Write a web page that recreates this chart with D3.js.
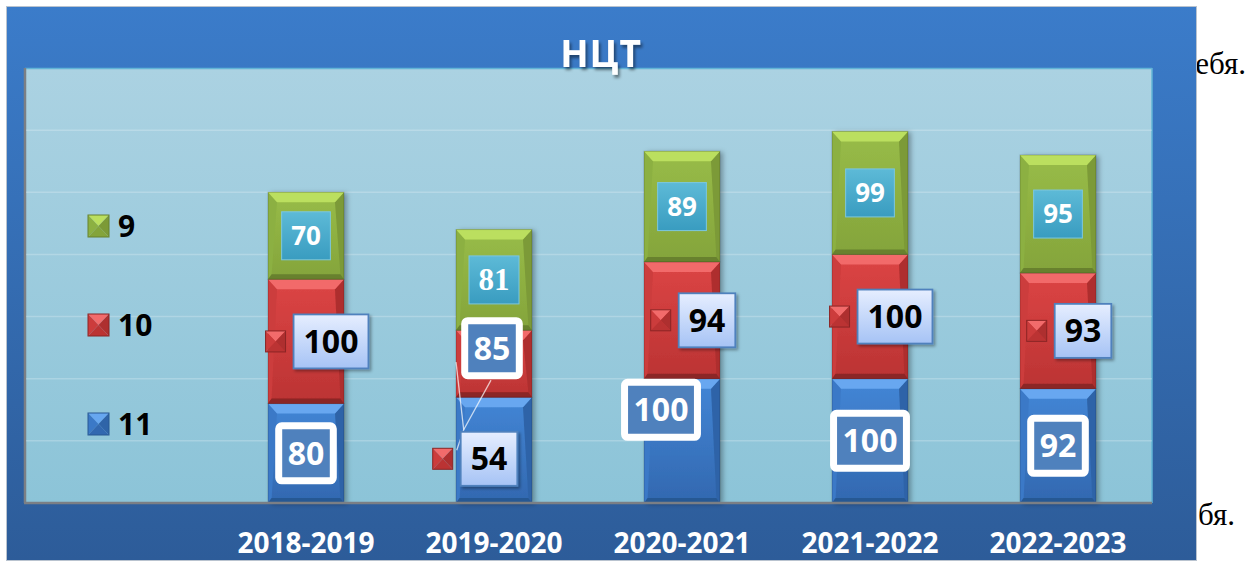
<!DOCTYPE html>
<html>
<head>
<meta charset="utf-8">
<script src="https://cdn.jsdelivr.net/npm/d3@7"></script>
<style>
  html, body { margin: 0; padding: 0; background: #fff; overflow: hidden; }
  svg { display: block; }
</style>
</head>
<body>
<svg id="chart" width="1253" height="563"></svg>
<script>
// НЦТ results by school year, stacked per grade
const years = ["2018-2019", "2019-2020", "2020-2021", "2021-2022", "2022-2023"];
const grade11 = [80, 85, 100, 100, 92];
const grade10 = [100, 54, 94, 100, 93];
const grade9 = [70, 81, 89, 99, 95];
const seriesKeys = ["11", "10", "9"];
const title = "НЦТ";

(function () {
  const svg = d3.select("#chart");
  const defs = svg.append("defs");
  const sans = "'Open Sans', 'DejaVu Sans', sans-serif";
  const serif = "'Liberation Serif', 'DejaVu Serif', serif";

  function grad(id, c1, c2, horizontal) {
    const g = defs.append("linearGradient").attr("id", id)
      .attr("x1", 0).attr("y1", 0)
      .attr("x2", horizontal ? 1 : 0).attr("y2", horizontal ? 0 : 1);
    g.append("stop").attr("offset", "0%").attr("stop-color", c1);
    g.append("stop").attr("offset", "100%").attr("stop-color", c2);
  }
  function shadow(id, dx, dy, sd, op) {
    defs.append("filter").attr("id", id)
      .attr("x", "-20%").attr("y", "-20%").attr("width", "140%").attr("height", "140%")
      .append("feDropShadow")
      .attr("dx", dx).attr("dy", dy).attr("stdDeviation", sd)
      .attr("flood-color", "#000").attr("flood-opacity", op);
  }

  grad("frameFill", "#3b7cca", "#2d5c99");
  grad("plotFill", "#abd2e2", "#8cc4d8");
  grad("greenLbl", "#5dbad7", "#399cc0");
  grad("redLbl", "#e6eeff", "#a6c3f5");
  shadow("titleSh", 2, 3, 1.5, 0.45);
  shadow("barSh", 3, 1, 2.5, 0.3);
  shadow("lblSh", 2, 2, 1.5, 0.35);

  const pal = {
    "11": { top: "#67a7f0", b1: "#4386d6", b2: "#3268b0", left: "#3b79c7", right: "#2f64a8", bottom: "#285893", label: "blue" },
    "10": { top: "#f26b6b", b1: "#dc4545", b2: "#bb3333", left: "#cc3c3c", right: "#ae2f2f", bottom: "#8b2525", label: "red" },
    "9":  { top: "#bbdf5e", b1: "#98bc48", b2: "#84a43b", left: "#8cb042", right: "#7c9a37", bottom: "#67812e", label: "green" }
  };
  seriesKeys.forEach((k) => grad("body" + k, pal[k].b1, pal[k].b2));

  // document text behind the chart
  svg.append("text").attr("x", 1246).attr("y", 74).attr("text-anchor", "end")
    .style("font-family", serif).style("font-size", "31px").text("себя.");
  svg.append("text").attr("x", 1198).attr("y", 525).attr("text-anchor", "start")
    .style("font-family", serif).style("font-size", "31px").text("бя.");

  // chart frame + plot area
  svg.append("rect").attr("x", 6.5).attr("y", 6.5).attr("width", 1190).attr("height", 554)
    .attr("fill", "url(#frameFill)").attr("stroke", "#b9c3cf").attr("stroke-width", 1);

  const plot = { x0: 25, x1: 1152, y0: 68, y1: 503 };
  svg.append("rect").attr("x", plot.x0).attr("y", plot.y0)
    .attr("width", plot.x1 - plot.x0).attr("height", plot.y1 - plot.y0)
    .attr("fill", "url(#plotFill)");
  svg.append("line").attr("x1", plot.x0).attr("x2", plot.x1).attr("y1", plot.y0 + 0.5).attr("y2", plot.y0 + 0.5)
    .attr("stroke", "#62b4d6").attr("stroke-width", 1.5);
  svg.append("line").attr("x1", plot.x1).attr("x2", plot.x1).attr("y1", plot.y0).attr("y2", plot.y1)
    .attr("stroke", "#62b4d6").attr("stroke-width", 1.5);
  svg.append("line").attr("x1", plot.x0).attr("x2", plot.x0).attr("y1", plot.y0).attr("y2", plot.y1)
    .attr("stroke", "#7b7f85").attr("stroke-width", 2.5);

  const x = d3.scaleBand().domain(years).range([212, 1152])
    .paddingInner(0.596).paddingOuter(0.298);
  const y = d3.scaleLinear().domain([0, 350]).range([plot.y1, plot.y0]);

  // gridlines
  svg.append("g").selectAll("line")
    .data(y.ticks(7).filter((t) => t > 0 && t < 350))
    .join("line")
    .attr("x1", plot.x0 + 1).attr("x2", plot.x1)
    .attr("y1", (d) => y(d)).attr("y2", (d) => y(d))
    .attr("stroke", "#ffffff").attr("stroke-opacity", 0.22).attr("stroke-width", 1.5);

  const table = years.map((yr, i) => ({ year: yr, "11": grade11[i], "10": grade10[i], "9": grade9[i] }));
  const layers = d3.stack().keys(seriesKeys)(table);
  const bw = x.bandwidth();

  // bars with bevel
  const bars = svg.append("g").attr("filter", "url(#barSh)");
  layers.forEach((layer) => {
    const p = pal[layer.key];
    layer.forEach((d) => {
      const x0 = x(d.data.year), x1 = x0 + bw;
      const yt = y(d[1]), yb = y(d[0]);
      const bt = Math.min(10, (yb - yt) / 3), bs = 9, bb = Math.min(5, (yb - yt) / 4);
      const g = bars.append("g");
      g.append("rect").attr("x", x0).attr("y", yt).attr("width", bw).attr("height", yb - yt)
        .attr("fill", "url(#body" + layer.key + ")");
      const poly = (pts, fill) => g.append("polygon").attr("points", pts.map((q) => q.join(",")).join(" ")).attr("fill", fill);
      poly([[x0, yt], [x0 + bs, yt + bt], [x0 + bs * 0.4, yb - bb], [x0, yb]], p.left);
      poly([[x1, yt], [x1, yb], [x1 - bs * 0.4, yb - bb], [x1 - bs, yt + bt]], p.right);
      poly([[x0, yb], [x0 + bs * 0.4, yb - bb], [x1 - bs * 0.4, yb - bb], [x1, yb]], p.bottom);
      poly([[x0, yt], [x1, yt], [x1 - bs, yt + bt], [x0 + bs, yt + bt]], p.top);
      g.append("rect").attr("x", x0).attr("y", yt).attr("width", bw).attr("height", yb - yt)
        .attr("fill", "none").attr("stroke", "#000").attr("stroke-opacity", 0.18).attr("stroke-width", 1);
    });
  });

  // axis line
  svg.append("line").attr("x1", plot.x0 - 1).attr("x2", plot.x1).attr("y1", plot.y1).attr("y2", plot.y1)
    .attr("stroke", "#7b7f85").attr("stroke-width", 2.5);

  function drawKey(g, kx, ky, w, h, p) {
    const cx = kx + w / 2, cy = ky + h / 2;
    const tri = (pts, fill) => g.append("polygon").attr("points", pts.map((q) => q.join(",")).join(" ")).attr("fill", fill);
    tri([[kx, ky], [kx + w, ky], [cx, cy]], p.top);
    tri([[kx, ky], [cx, cy], [kx, ky + h]], p.left);
    tri([[kx + w, ky], [kx + w, ky + h], [cx, cy]], p.right);
    tri([[kx, ky + h], [cx, cy], [kx + w, ky + h]], p.b2);
    g.append("rect").attr("x", kx).attr("y", ky).attr("width", w).attr("height", h)
      .attr("fill", "none").attr("stroke", p.bottom).attr("stroke-width", 1);
  }

  // manually dragged labels in the original
  const labelNudge = {
    "11|2019-2020": [-2, -102],
    "10|2019-2020": [-30, 95],
    "11|2020-2021": [-21, -31]
  };
  const serifLabels = { "9|2019-2020": true };
  const boxes = {};

  const labels = svg.append("g");
  layers.forEach((layer) => {
    const k = layer.key, p = pal[k];
    layer.forEach((d) => {
      const id = k + "|" + d.data.year;
      const nudge = labelNudge[id] || [0, 0];
      const bx = x(d.data.year) + bw / 2;
      const cx = bx + nudge[0];
      const cy = (y(d[0]) + y(d[1])) / 2 + nudge[1];
      const g = labels.append("g");
      const val = d.data[k];

      if (p.label === "green") {
        const t = g.append("text").text(val)
          .style("font-family", serifLabels[id] ? serif : sans)
          .style("font-size", serifLabels[id] ? "31px" : "26px")
          .style("font-weight", 700).attr("fill", "#fff")
          .attr("text-anchor", "middle").attr("x", cx).attr("y", cy)
          .attr("dy", serifLabels[id] ? "0.33em" : "0.36em");
        const tw = t.node().getComputedTextLength();
        g.insert("rect", "text").attr("x", cx - (tw + 19) / 2).attr("y", cy - 24)
          .attr("width", tw + 19).attr("height", 48)
          .attr("fill", "url(#greenLbl)").attr("stroke", "#7cc7de").attr("stroke-width", 1);
      } else if (p.label === "red") {
        const t = g.append("text").text(val)
          .style("font-family", sans).style("font-size", "32px").style("font-weight", 700)
          .attr("fill", "#000").attr("text-anchor", "middle").attr("dy", "0.36em");
        const tw = t.node().getComputedTextLength();
        const boxW = tw + 20, gw = 20 + 8 + boxW;
        const left = cx + 11 - gw / 2;
        const boxX = left + 28;
        t.attr("x", boxX + boxW / 2).attr("y", cy);
        g.insert("rect", "text").attr("x", boxX).attr("y", cy - 27)
          .attr("width", boxW).attr("height", 54)
          .attr("fill", "url(#redLbl)").attr("stroke", "#4f81bd").attr("stroke-width", 1.8)
          .attr("filter", "url(#lblSh)");
        drawKey(g.append("g"), left, cy - 10.5, 20, 21, p);
        boxes[id] = { x: boxX, y: cy - 27, w: boxW, h: 54, kx: left, ky: cy - 10.5 };
      } else {
        const t = g.append("text").text(val)
          .style("font-family", sans).style("font-size", "32px").style("font-weight", 700)
          .attr("fill", "#fff").attr("text-anchor", "middle")
          .attr("x", cx).attr("y", cy).attr("dy", "0.36em");
        const tw = t.node().getComputedTextLength();
        const w = tw + 18, h = 55;
        g.insert("rect", "text").attr("x", cx - w / 2).attr("y", cy - h / 2)
          .attr("width", w).attr("height", h).attr("rx", 3)
          .attr("fill", "#4f81bd").attr("stroke", "#fff").attr("stroke-width", 7);
        boxes[id] = { x: cx - w / 2 - 3.5, y: cy - h / 2 - 3.5, w: w + 7, h: h + 7, bx: bx };
      }
    });
  });

  // leader lines for the dragged labels of 2019-2020
  const b85 = boxes["11|2019-2020"], b54 = boxes["10|2019-2020"];
  if (b85 && b54) {
    const hub = [b54.x + 3, b54.y - 2];
    const barLeft = x("2019-2020");
    const leaders = [
      [[barLeft, b85.y + 45], hub],
      [[b85.x + b85.w / 2 - 1, b85.y + b85.h + 1], hub, [b54.kx + 24, b54.ky + 2]]
    ];
    labels.insert("g", ":first-child").selectAll("polyline").data(leaders).join("polyline")
      .attr("points", (pts) => pts.map((q) => q.join(",")).join(" "))
      .attr("fill", "none").attr("stroke", "#ffffff").attr("stroke-opacity", 0.7).attr("stroke-width", 1.3);
  }

  // x axis labels
  const xAxis = svg.append("g").attr("transform", `translate(0,${plot.y1})`)
    .call(d3.axisBottom(x).tickSize(0).tickPadding(30));
  xAxis.select(".domain").remove();
  xAxis.selectAll("text").attr("fill", "#fff")
    .style("font-family", sans).style("font-size", "28px").style("font-weight", 700);

  // legend
  const legY = d3.scalePoint().domain(seriesKeys.slice().reverse()).range([226, 424]);
  const leg = svg.append("g");
  seriesKeys.forEach((k) => {
    const g = leg.append("g");
    drawKey(g, 88, legY(k) - 11, 21, 22, pal[k]);
    g.append("text").attr("x", 118).attr("y", legY(k)).attr("dy", "0.36em").text(k)
      .style("font-family", sans).style("font-size", "30px").style("font-weight", 700).attr("fill", "#000");
  });

  // title
  svg.append("text").attr("x", 601).attr("y", 67).attr("text-anchor", "middle")
    .attr("fill", "#fff").attr("filter", "url(#titleSh)")
    .style("font-family", sans).style("font-size", "37px").style("font-weight", 700)
    .style("letter-spacing", "1px")
    .text(title);
})();
</script>
</body>
</html>
